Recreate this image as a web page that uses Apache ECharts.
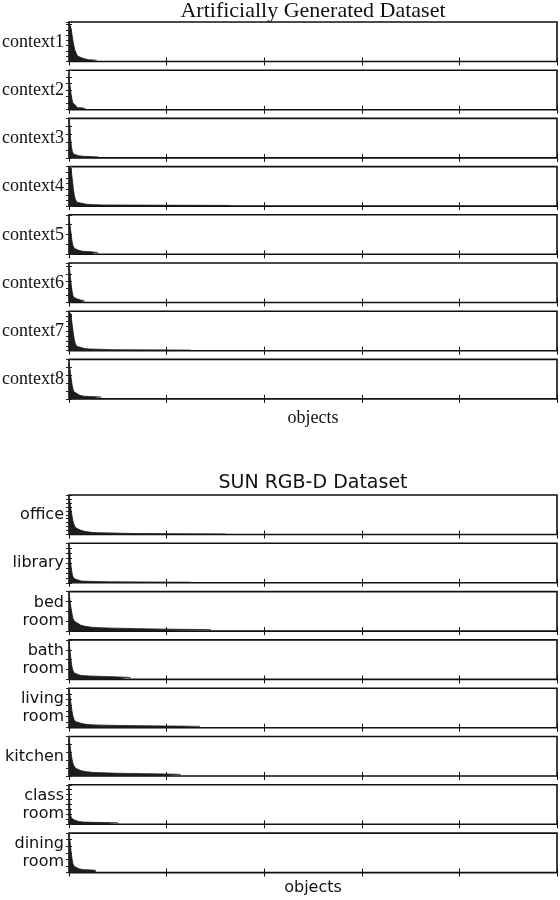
<!DOCTYPE html>
<html>
<head>
<meta charset="utf-8">
<script src="https://cdn.jsdelivr.net/npm/echarts@6/dist/echarts.min.js"></script>
<style>
  html, body { margin: 0; padding: 0; background: #fff; }
  #chart { width: 560px; height: 900px; }
</style>
</head>
<body>
<div id="chart"></div>
<script>
// object rank on x (0..1000), object count on y
const context1 = [[0,74],[4,64],[6,52],[8,40],[10,30],[12,22],[15,15],[18,10],[22,7],[26,5],[32,3.5],[40,2.5],[56,0]];
const context2 = [[0,50],[2,38],[4,25],[6,16],[8,10],[10,7],[13,5],[17,3],[24,2],[33,0]];
const context3 = [[0,48],[2,40],[3,26],[5,14],[7,8],[9,5],[12,3.5],[16,2.5],[22,2],[30,1.2],[60,0]];
const context4 = [[0,70],[3,67],[5,60],[7,46],[9,30],[11,19],[13,12],[16,7],[20,5],[26,3.5],[35,2.5],[50,2],[70,1.2],[330,0]];
const context5 = [[0,38],[2,30],[4,22],[6,14],[8,9],[11,6],[15,4],[20,3],[28,2.5],[45,1.8],[58,0]];
const context6 = [[0,52],[2,42],[4,28],[6,17],[8,10],[10,7],[13,5],[17,3.5],[24,2.5],[31,0]];
const context7 = [[0,78],[3,74],[5,64],[7,50],[9,34],[11,22],[13,14],[16,9],[20,6.5],[25,4.5],[32,3.5],[42,3],[60,2],[90,1.2],[250,0]];
const context8 = [[0,46],[2,38],[4,28],[6,19],[8,13],[10,9],[13,6.5],[17,4.5],[22,3.5],[30,3],[40,2.5],[65,0]];

const office = [[0,98],[2,82],[4,64],[6,48],[8,35],[10,26],[13,18],[16,13],[20,10],[26,7.5],[34,5.5],[45,4.5],[60,4],[82,2.5],[130,1.8],[200,1.2],[320,0]];
const library = [[0,78],[2,64],[3,44],[5,27],[7,16],[9,10],[11,7],[14,5],[18,3.5],[25,3],[40,2.5],[60,2],[80,1.2],[250,0]];
const bedroom = [[0,38],[2,32],[4,24],[6,18],[8,13],[11,10],[14,8],[18,6],[24,5],[32,4],[45,3.5],[60,3],[90,2.5],[140,2],[200,1.5],[290,0]];
const bathroom = [[0,38],[2,30],[4,20],[6,13],[8,9],[11,6.5],[14,5],[18,4],[25,3.5],[40,3],[70,2.5],[100,2],[125,0]];
const livingroom = [[0,68],[2,58],[4,43],[6,30],[8,21],[10,15],[13,11],[16,9],[20,7.5],[26,6],[35,5],[50,4.5],[70,4],[100,3.5],[150,3],[200,2.5],[268,0]];
const kitchen = [[0,48],[2,40],[4,30],[6,22],[8,16],[10,13],[13,10],[16,8],[20,6.5],[26,5.5],[35,4.5],[50,4],[70,3.5],[100,3],[150,2.5],[200,2],[228,0]];
const classroom = [[0,76],[1,55],[2,34],[3,20],[5,13],[7,9],[10,7],[14,5.5],[20,4.5],[30,4],[50,3.5],[75,3],[100,0]];
const diningroom = [[0,58],[2,48],[4,34],[6,22],[8,14],[10,10],[13,7],[17,5.5],[22,4.5],[30,4],[45,3.5],[54,0]];

const artificialLabels = ['context1','context2','context3','context4','context5','context6','context7','context8'];
const artificialData = [context1, context2, context3, context4, context5, context6, context7, context8];
const artificialMax = [75, 60, 50, 70, 40, 55, 80, 50];

const sunLabels = ['office','library','bed\nroom','bath\nroom','living\nroom','kitchen','class\nroom','dining\nroom'];
const sunData = [office, library, bedroom, bathroom, livingroom, kitchen, classroom, diningroom];
const sunMax = [100, 80, 40, 40, 70, 50, 80, 60];

const xMax = 1000;
const xStep = 200;
const yStep = 10;

const SERIF = '"Liberation Serif", "DejaVu Serif", serif';
const SANS = '"DejaVu Sans", sans-serif';

const grid = [], xAxis = [], yAxis = [], series = [], graphic = [];

// one small panel: framed grid, inward ticks on all four sides, dark step area
function addPanel(top, label, data, yMax, font) {
  const g = grid.length;
  grid.push({
    left: 69, top: top, width: 488, height: 39.5,
    show: true, borderColor: '#111', borderWidth: 1.6, backgroundColor: '#fff',
    outerBoundsMode: 'none'
  });
  ['bottom', 'top'].forEach(pos => {
    xAxis.push({
      type: 'value', gridIndex: g, position: pos, min: 0, max: xMax, interval: xStep,
      axisLine: { show: false }, splitLine: { show: false }, axisLabel: { show: false },
      axisTick: { show: true, inside: true, length: 4, lineStyle: { color: '#111', width: 1 } }
    });
  });
  ['left', 'right'].forEach(pos => {
    yAxis.push({
      type: 'value', gridIndex: g, position: pos, min: 0, max: yMax, interval: yStep,
      axisLine: { show: false }, splitLine: { show: false }, axisLabel: { show: false },
      axisTick: { show: true, inside: true, length: 3, lineStyle: { color: '#222', width: 1 } }
    });
  });
  series.push({
    type: 'line', xAxisIndex: 2 * g, yAxisIndex: 2 * g, data: data,
    step: 'end', symbol: 'none', silent: true,
    lineStyle: { color: '#1c1c1c', width: 0.8 },
    areaStyle: { color: '#1c1c1c', opacity: 1 }
  });
  graphic.push({
    type: 'text', x: 64, y: top + 20, silent: true,
    style: { text: label, font: font, fill: '#111', textAlign: 'right', textVerticalAlign: 'middle', lineHeight: 18 }
  });
}

artificialLabels.forEach((l, i) => addPanel(22 + 48.2 * i, l, artificialData[i], artificialMax[i], '18px ' + SERIF));
sunLabels.forEach((l, i) => addPanel(495 + 48.3 * i, l, sunData[i], sunMax[i], '16px ' + SANS));

graphic.push(
  { type: 'text', x: 313, y: 11, style: { text: 'Artificially Generated Dataset', font: '22px ' + SERIF, fill: '#111', textAlign: 'center', textVerticalAlign: 'middle' } },
  { type: 'text', x: 313, y: 418, style: { text: 'objects', font: '18px ' + SERIF, fill: '#111', textAlign: 'center', textVerticalAlign: 'middle' } },
  { type: 'text', x: 313, y: 483, style: { text: 'SUN RGB-D Dataset', font: '19px ' + SANS, fill: '#111', textAlign: 'center', textVerticalAlign: 'middle' } },
  { type: 'text', x: 313, y: 888, style: { text: 'objects', font: '16px ' + SANS, fill: '#111', textAlign: 'center', textVerticalAlign: 'middle' } }
);

const chart = echarts.init(document.getElementById('chart'));
chart.setOption({
  animation: false,
  backgroundColor: '#fff',
  grid, xAxis, yAxis, series, graphic
});
window.addEventListener('resize', () => chart.resize());
</script>
</body>
</html>
